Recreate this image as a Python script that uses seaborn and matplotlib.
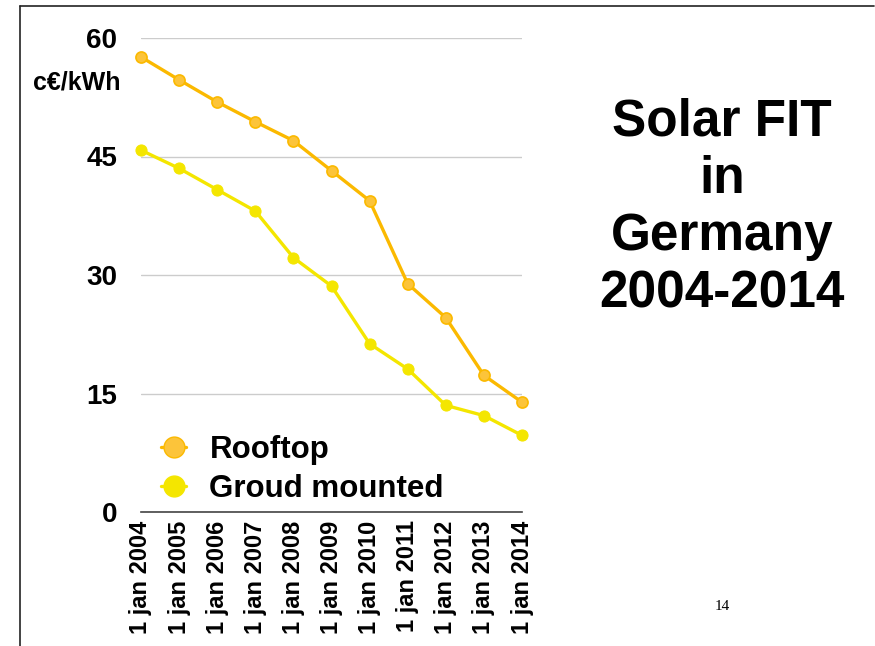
import numpy as np
import pandas as pd
import matplotlib.pyplot as plt
import seaborn as sns
from matplotlib.lines import Line2D

# data (c€/kWh)
years = [2004, 2005, 2006, 2007, 2008, 2009, 2010, 2011, 2012, 2013, 2014]
rooftop = [57.6, 54.7, 51.9, 49.4, 47.0, 43.2, 39.4, 28.9, 24.6, 17.3, 13.9]
ground = [45.8, 43.5, 40.8, 38.1, 32.2, 28.6, 21.3, 18.1, 13.5, 12.2, 9.7]
xlabels = ["1 jan %d" % y for y in years]
yticks = [0, 15, 30, 45, 60]

roof_col = "#FBB900"
ground_col = "#F4E600"

sns.set_theme(style="white")
plt.rcParams['font.family'] = ['Liberation Sans', 'DejaVu Sans']
plt.rcParams['font.weight'] = 'bold'
plt.rcParams['text.color'] = 'black'
plt.rcParams['xtick.color'] = 'black'
plt.rcParams['ytick.color'] = 'black'

fig = plt.figure(figsize=(8.75, 6.46), dpi=100)
ax = fig.add_axes([141/875, 1 - 512/646, (522 - 141)/875, (512 - 38)/646])

df = pd.DataFrame({"year": years, "Rooftop": rooftop, "Groud mounted": ground})

sns.lineplot(data=df, x="year", y="Rooftop", ax=ax, color=roof_col, lw=2.4,
             marker="o", markersize=8, markerfacecolor="#FCC43A",
             markeredgecolor=roof_col, markeredgewidth=1.2, clip_on=False,
             label="Rooftop", legend=False)
sns.lineplot(data=df, x="year", y="Groud mounted", ax=ax, color=ground_col, lw=2.4,
             marker="o", markersize=8, markerfacecolor=ground_col,
             markeredgecolor=ground_col, clip_on=False,
             label="Groud mounted", legend=False)

ax.set_xlim(years[0], years[-1])
ax.set_ylim(0, 60)
ax.set_yticks(yticks)
ax.set_xticks(years)
ax.set_xticklabels(xlabels, rotation=90, fontsize=17, fontweight='bold')
ax.set_yticklabels([str(t) for t in yticks], fontsize=20, fontweight='bold')
ax.tick_params(axis='y', length=0, pad=17)
ax.tick_params(axis='x', length=0, pad=6)
ax.set_xlabel("")
ax.set_ylabel("")
ax.yaxis.grid(True, color="#cccccc", lw=1)
ax.set_axisbelow(True)
for s in ["left", "right", "top"]:
    ax.spines[s].set_visible(False)
ax.spines["bottom"].set_color("#444444")
ax.spines["bottom"].set_linewidth(1.2)

# legend
handles = [Line2D([], [], color=roof_col, lw=2.4, marker="o", markersize=15,
                  markerfacecolor="#FCC43A", markeredgecolor=roof_col),
           Line2D([], [], color=ground_col, lw=2.4, marker="o", markersize=15,
                  markerfacecolor=ground_col, markeredgecolor=ground_col)]
fig.legend(handles, ["Rooftop", "Groud mounted"], loc="upper left",
           bbox_to_anchor=(161/875, 1 - 435/646), frameon=False,
           prop={'size': 22.5, 'weight': 'bold'}, handlelength=0.8,
           handletextpad=0.75, labelspacing=0.3, borderpad=0, borderaxespad=0)

# unit label
fig.text(120/875, 1 - 82/646, "c€/kWh", ha="right", va="center",
         fontsize=18, fontweight="bold")

# slide title
fig.text(722/875, 1 - 208/646, "Solar FIT\nin\nGermany\n2004-2014",
         ha="center", va="center", fontsize=37, fontweight="bold",
         linespacing=1.22)

# page number
fig.text(722/875, 1 - 606/646, "14", ha="center", va="center",
         fontsize=11, family="Liberation Serif", fontweight="normal")

# slide border (top and left)
fig.add_artist(Line2D([20/875, 874/875], [1 - 6/646, 1 - 6/646],
                      transform=fig.transFigure, color="#222222", lw=1.2))
fig.add_artist(Line2D([20/875, 20/875], [1 - 6/646, 0],
                      transform=fig.transFigure, color="#222222", lw=1.2))

fig.savefig("out.png", dpi=100)
